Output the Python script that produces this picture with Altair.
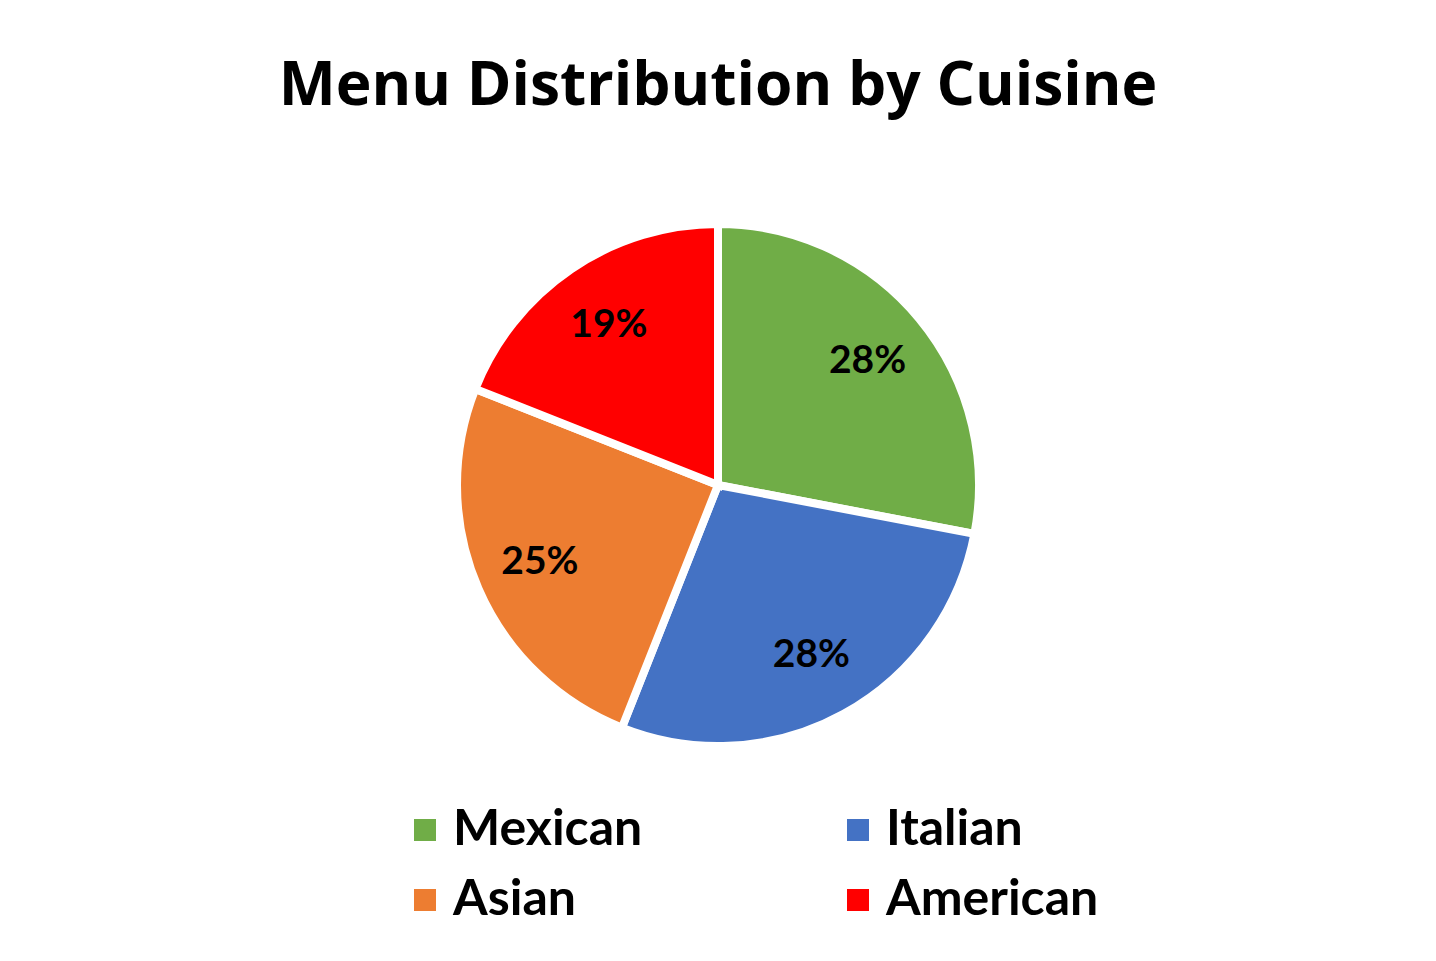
import altair as alt
import pandas as pd

cuisines = ["Mexican", "Italian", "Asian", "American"]
shares = [28, 28, 25, 19]
colors = ["#70AD47", "#4472C4", "#ED7D31", "#FF0000"]

df = pd.DataFrame({
    "cuisine": cuisines,
    "share": shares,
    "idx": list(range(len(cuisines))),
})
df["label"] = [f"{v}%" for v in shares]

FONT = "Lato"
TITLE_FONT = "Open Sans"

base = alt.Chart(df).encode(
    theta=alt.Theta("share:Q", stack=True),
    order=alt.Order("idx:Q", sort="ascending"),
)

pie = base.mark_arc(radius=261, stroke="white", strokeWidth=8).encode(
    color=alt.Color(
        "cuisine:N",
        scale=alt.Scale(domain=cuisines, range=colors),
        sort=cuisines,
        legend=alt.Legend(
            title=None,
            orient="none",
            legendX=392,
            legendY=668,
            columns=2,
            direction="horizontal",
            columnPadding=190,
            rowPadding=20,
            symbolType="square",
            symbolSize=484,
            symbolStrokeWidth=0,
            labelFont=FONT,
            labelFontSize=50,
            labelFontWeight="bold",
            labelColor="black",
            labelOffset=3,
            labelLimit=400,
            padding=0,
        ),
    )
)

labels = base.mark_text(
    radius=194, font=FONT, fontSize=39, fontWeight="bold", color="black"
).encode(text="label:N")

chart = (
    alt.layer(pie, labels)
    .properties(
        width=1420,
        height=696,
        padding={"top": 48, "left": 0, "right": 0, "bottom": 0},
        title=alt.TitleParams(
            "Menu Distribution by Cuisine",
            font=TITLE_FONT,
            fontSize=60.5,
            fontWeight="bold",
            color="black",
            anchor="middle",
            offset=20,
        ),
    )
    .configure_view(stroke=None)
    .configure(background="white")
)

chart.save("out.html", embed_options={"renderer": "svg", "actions": False})
